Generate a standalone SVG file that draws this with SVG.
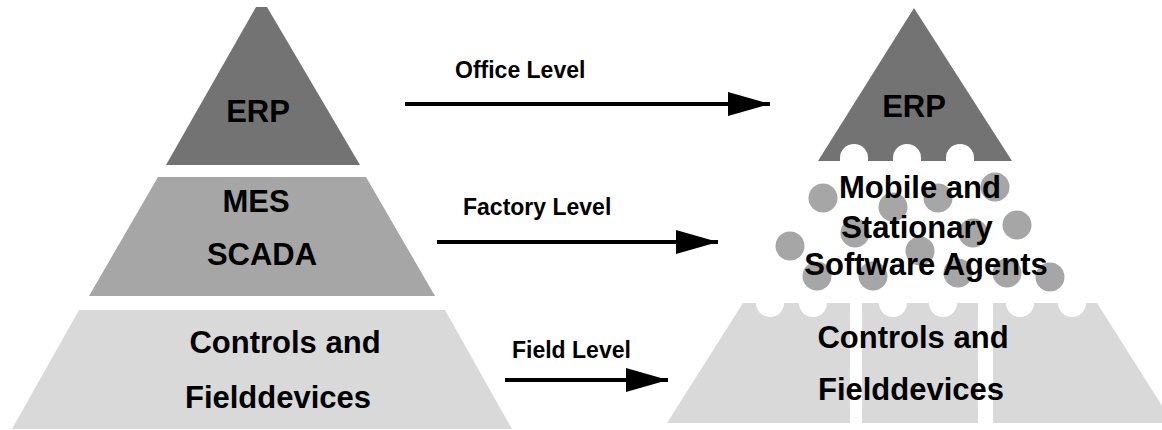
<svg xmlns="http://www.w3.org/2000/svg" width="1162" height="430" viewBox="0 0 1162 430">
<style>
.t{font-family:"Liberation Sans",Arial,sans-serif;font-weight:bold;fill:#000;text-anchor:middle;font-size:31px}
.lbl{font-family:"Liberation Sans",Arial,sans-serif;font-weight:bold;fill:#000;font-size:23px}
.dark{fill:#737373}
.mid{fill:#a6a6a6}
.light{fill:#d9d9d9}
.agent{fill:#a6a6a6}
.cut{fill:#fff}
.conn{stroke:#000;stroke-width:4;fill:none}
</style>
<defs>
<marker id="ah" markerUnits="userSpaceOnUse" markerWidth="42" markerHeight="24" refX="42" refY="12" orient="auto">
<path d="M0,0 L42,12 L0,24 z" fill="#000"/>
</marker>
</defs>
<rect width="1162" height="430" fill="#fff"/>

<g id="left-erp">
<polygon class="dark" points="256,7 267,7 360,165 166,165"/>
<text class="t" x="258" y="122">ERP</text>
</g>
<g id="left-mes-scada">
<polygon class="mid" points="158,177 366,177 435,296 89,296"/>
<text class="t" x="256" y="212">MES</text>
<text class="t" x="262" y="265">SCADA</text>
</g>
<g id="left-controls">
<polygon class="light" points="79,310 445,310 512,429 12,429"/>
<text class="t" x="285" y="353">Controls and</text>
<text class="t" x="278" y="408">Fielddevices</text>
</g>

<g id="connectors">
<line class="conn" x1="405" y1="104" x2="770" y2="104" marker-end="url(#ah)"/>
<line class="conn" x1="437" y1="242" x2="718" y2="242" marker-end="url(#ah)"/>
<line class="conn" x1="505" y1="380" x2="668" y2="380" marker-end="url(#ah)"/>
<text class="lbl" x="455" y="78">Office Level</text>
<text class="lbl" x="463" y="215">Factory Level</text>
<text class="lbl" x="512" y="358">Field Level</text>
</g>

<g id="right-erp">
<polygon class="dark" points="914,8 1012,161 818,161"/>
<circle class="cut" cx="854" cy="158" r="14"/>
<circle class="cut" cx="907" cy="158" r="14"/>
<circle class="cut" cx="960" cy="158" r="14"/>
<rect class="cut" x="840" y="158" width="28" height="4"/>
<rect class="cut" x="893" y="158" width="28" height="4"/>
<rect class="cut" x="946" y="158" width="28" height="4"/>
<text class="t" x="914" y="117">ERP</text>
</g>

<g id="right-controls">
<polygon class="light" points="743,303 1097,303 1173,423 667,423"/>
<rect class="cut" x="850" y="300" width="12" height="125"/>
<rect class="cut" x="978" y="300" width="15" height="125"/>
<circle class="cut" cx="770" cy="303" r="14"/>
<circle class="cut" cx="813" cy="303" r="14"/>
<circle class="cut" cx="893" cy="303" r="14"/>
<circle class="cut" cx="943" cy="303" r="14"/>
<circle class="cut" cx="1020" cy="303" r="14"/>
<circle class="cut" cx="1072" cy="303" r="14"/>
<text class="t" x="913" y="348">Controls and</text>
<text class="t" x="911" y="400">Fielddevices</text>
</g>

<g id="right-agents">
<circle class="agent" cx="823" cy="198" r="14.5"/>
<circle class="agent" cx="893" cy="207" r="14.5"/>
<circle class="agent" cx="938" cy="198" r="14.5"/>
<circle class="agent" cx="995" cy="187" r="14.5"/>
<circle class="agent" cx="790" cy="246" r="14.5"/>
<circle class="agent" cx="855" cy="233" r="14.5"/>
<circle class="agent" cx="920" cy="251" r="14.5"/>
<circle class="agent" cx="973" cy="233" r="14.5"/>
<circle class="agent" cx="1017" cy="225" r="14.5"/>
<circle class="agent" cx="817" cy="276" r="14.5"/>
<circle class="agent" cx="873" cy="276" r="14.5"/>
<circle class="agent" cx="958" cy="273" r="14.5"/>
<circle class="agent" cx="1007" cy="273" r="14.5"/>
<circle class="agent" cx="1050" cy="277" r="14.5"/>
<text class="t" x="920" y="198">Mobile and</text>
<text class="t" x="917" y="238">Stationary</text>
<text class="t" x="926" y="275">Software Agents</text>
</g>
</svg>
